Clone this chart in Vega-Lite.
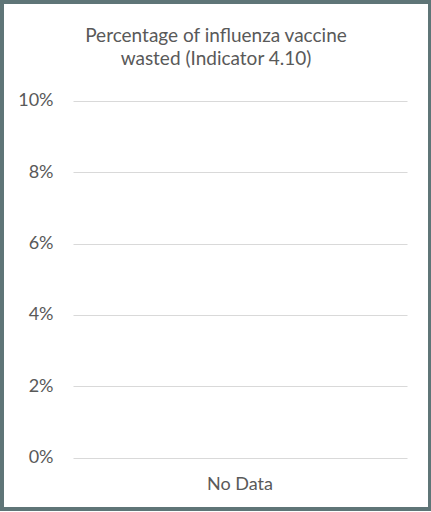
{
  "$schema": "https://vega.github.io/schema/vega-lite/v6.json",
  "autosize": "none",
  "width": 428,
  "height": 507,
  "padding": {"left": 2, "top": 2, "right": 1, "bottom": 3},
  "background": "white",
  "title": {
    "text": ["Percentage of influenza vaccine", "wasted (Indicator 4.10)"],
    "anchor": "middle",
    "frame": "group",
    "offset": -67,
    "font": "Lato",
    "fontSize": 19,
    "fontWeight": "normal",
    "color": "#595959",
    "lineHeight": 23.5
  },
  "data": {
    "values": [
      {"category": "No Data", "pct": null}
    ]
  },
  "mark": {"type": "bar", "color": "#4472c4"},
  "encoding": {
    "x": {
      "field": "category",
      "type": "nominal",
      "scale": {"domain": ["No Data"], "range": [71, 405], "paddingInner": 0.4, "paddingOuter": 0.3},
      "axis": {
        "title": null,
        "offset": -51,
        "domain": false,
        "ticks": false,
        "labelAngle": 0,
        "labelPadding": 17,
        "labelFont": "Lato",
        "labelFontSize": 18,
        "labelColor": "#595959"
      }
    },
    "y": {
      "field": "pct",
      "type": "quantitative",
      "scale": {"domain": [0, 0.1], "range": [455.7, 98.7], "nice": false, "zero": true},
      "axis": {
        "title": null,
        "offset": -71,
        "values": [0, 0.02, 0.04, 0.06, 0.08, 0.1],
        "format": ".0%",
        "domain": false,
        "ticks": false,
        "labelPadding": 20,
        "labelFont": "Lato",
        "labelFontSize": 18,
        "labelColor": "#595959",
        "grid": true,
        "gridColor": "#d9d9d9",
        "gridWidth": 1.2
      }
    }
  },
  "config": {
    "view": {"stroke": "#5f7577", "strokeWidth": 4, "fill": "white"}
  }
}
